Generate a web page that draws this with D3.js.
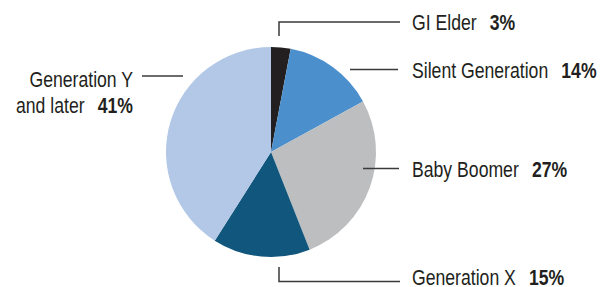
<!DOCTYPE html>
<html>
<head>
<meta charset="utf-8">
<script src="https://cdn.jsdelivr.net/npm/d3@7"></script>
<style>
  body { margin: 0; background: #fff; }
  svg text { font-family: "Liberation Sans Narrow", "Liberation Sans", Arial, sans-serif; font-size: 21.5px; fill: #231f20; }
  .pct { font-weight: bold; }
</style>
</head>
<body>
<div id="chart"></div>
<script>
// data
var categories = ["GI Elder", "Silent Generation", "Baby Boomer", "Generation X", "Generation Y and later"];
var shares = [3, 14, 27, 15, 41];
var colors = ["#231f20", "#4b8fcc", "#bcbec0", "#11567c", "#b3c8e7"];

var width = 611, height = 287;
var cx = 271, cy = 152, radius = 105;
var squeeze = 0.82; // fake a condensed face, no narrow font installed

var svg = d3.select("#chart")
    .append("svg")
    .attr("width", width)
    .attr("height", height);

var pie = d3.pie().sort(null).value(d => d);
var arc = d3.arc().innerRadius(0).outerRadius(radius);

var g = svg.append("g")
    .attr("transform", `translate(${cx}, ${cy})`);

g.selectAll("path")
    .data(pie(shares))
    .enter()
    .append("path")
    .attr("d", arc)
    .attr("fill", (d, i) => colors[i]);

// leader lines + labels (layout only)
var labels = [
    { pts: [[279, 36], [279, 22], [400, 22]], x: 412, y: 30, anchor: "start", lines: [categories[0]] },
    { pts: [[350, 69.5], [398, 69.5]], x: 412, y: 77.5, anchor: "start", lines: [categories[1]] },
    { pts: [[363, 168.5], [399, 168.5]], x: 412, y: 176.5, anchor: "start", lines: [categories[2]] },
    { pts: [[279, 267], [279, 281.5], [400, 281.5]], x: 412, y: 285, anchor: "start", lines: [categories[3]] },
    { pts: [[142, 76], [183, 76]], x: 133, y: 87, anchor: "end", lines: ["Generation Y", "and later"] }
];

var line = d3.line();

labels.forEach(function(l, i) {
    svg.append("path")
        .attr("d", line(l.pts))
        .attr("fill", "none")
        .attr("stroke", "#3a3a3a")
        .attr("stroke-width", 1.5);

    var t = svg.append("g")
        .attr("transform", `translate(${l.x}, ${l.y}) scale(${squeeze}, 1)`)
        .append("text")
        .attr("text-anchor", l.anchor);

    l.lines.forEach(function(s, j) {
        var ts = t.append("tspan").text(s);
        if (j > 0) ts.attr("x", 0).attr("dy", 26);
    });
    t.append("tspan")
        .attr("class", "pct")
        .attr("dx", 16)
        .text(shares[i] + "%");
});
</script>
</body>
</html>
